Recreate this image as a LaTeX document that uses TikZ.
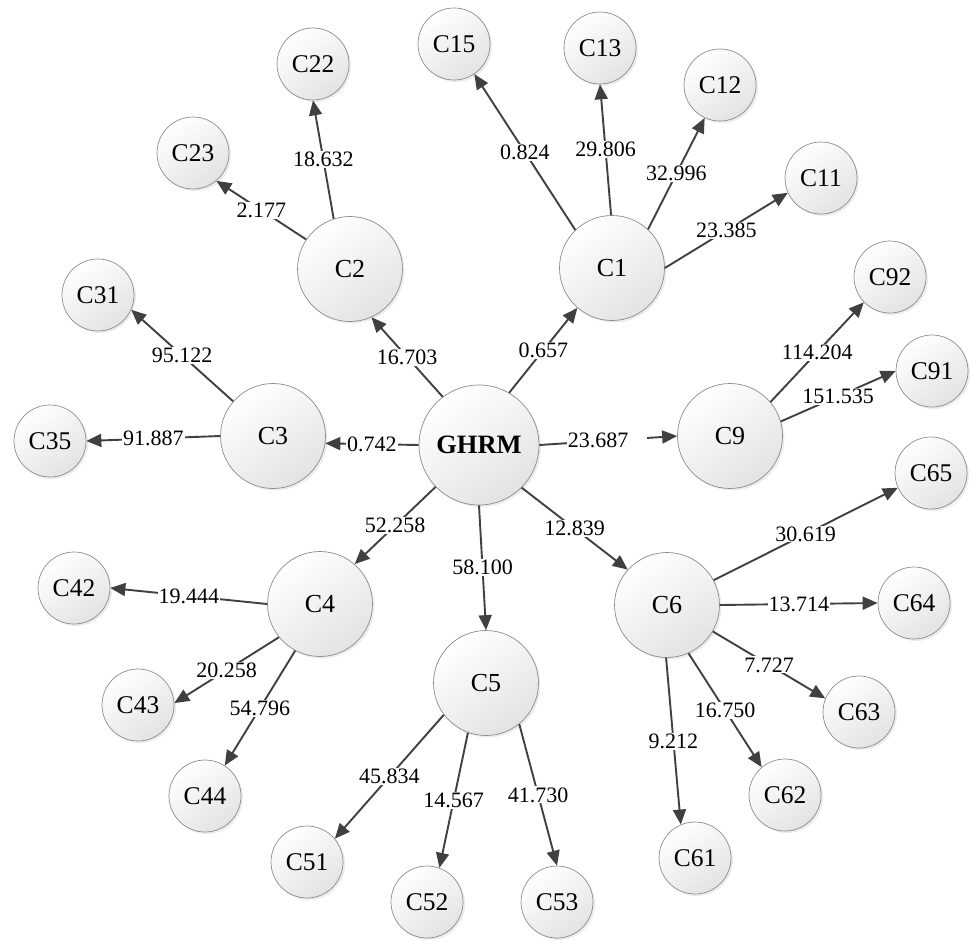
\documentclass[tikz,border=0pt]{standalone}
\usepackage{fontspec}
\setmainfont{Liberation Serif}
\usetikzlibrary{arrows.meta,shadows}
\begin{document}
\begin{tikzpicture}[x=1pt,y=-1pt,
  nd/.style={circle, draw=black!45, line width=0.7pt, inner sep=0pt,
    top color=white, bottom color=black!11, shading angle=35,
    drop shadow={shadow xshift=2pt,shadow yshift=-2pt,opacity=0.15}},
  big/.style={nd, minimum size=105pt, font=\fontsize{26}{28}\selectfont},
  small/.style={nd, minimum size=72pt, font=\fontsize{25.5}{28}\selectfont},
  hub/.style={nd, minimum size=120pt, font=\fontsize{26.5}{28}\selectfont\bfseries},
  con/.style={draw=black!75, line width=1.9pt, -{Triangle[length=15pt,width=13pt]}},
  lbl/.style={fill=white, inner sep=1pt, font=\fontsize{22}{24}\selectfont, pos=0.5}
]
\useasboundingbox (0,0) rectangle (973,939);

% main nodes
\node[hub] (GHRM) at (479,445) {GHRM};
\node[big] (C1) at (612,268) {C1};
\node[big] (C2) at (350,269) {C2};
\node[big] (C3) at (273,436) {C3};
\node[big] (C4) at (320,604) {C4};
\node[big] (C5) at (486,683) {C5};
\node[big] (C6) at (667,605) {C6};
\node[big] (C9) at (730,436) {C9};

% leaf nodes
\node[small] (C15) at (454,44) {C15};
\node[small] (C13) at (600,48) {C13};
\node[small] (C12) at (720,85) {C12};
\node[small] (C11) at (821,178) {C11};
\node[small] (C22) at (313,64) {C22};
\node[small] (C23) at (193,153) {C23};
\node[small] (C31) at (98,295) {C31};
\node[small] (C35) at (50,441) {C35};
\node[small] (C92) at (890,277) {C92};
\node[small] (C91) at (932,371) {C91};
\node[small] (C65) at (931,473) {C65};
\node[small] (C64) at (914,603) {C64};
\node[small] (C63) at (859,712) {C63};
\node[small] (C62) at (785,795) {C62};
\node[small] (C61) at (695,858) {C61};
\node[small] (C42) at (74,588) {C42};
\node[small] (C43) at (138,705) {C43};
\node[small] (C44) at (205,796) {C44};
\node[small] (C51) at (307,862) {C51};
\node[small] (C52) at (427,902) {C52};
\node[small] (C53) at (557,902) {C53};

% GHRM edges
\draw[con] (GHRM.127) -- node[lbl]{16.703} (C2.294);
\draw[con] (GHRM.60) -- node[lbl]{0.657} (C1.229);
\draw[con] (GHRM.180) -- node[lbl]{0.742} (C3.352);
\draw[con] (GHRM.0) -- node[lbl,pos=0.49,text width=78pt,align=left]{23.687} (C9.180);
\draw[con] (GHRM.224) -- node[lbl]{52.258} (C4.49);
\draw[con] (GHRM.270) -- node[lbl]{58.100} (C5.90);
\draw[con] (GHRM.-45) -- node[lbl]{12.839} (C6.138);

% C1 edges
\draw[con] (C1.134) -- node[lbl]{0.824} (C15.304);
\draw[con] (C1.91) -- node[lbl]{29.806} (C13.270);
\draw[con] (C1.47) -- node[lbl]{32.996} (C12.245);
\draw[con] (C1.0) -- node[lbl]{23.385} (C11.204);

% C2 edges
\draw[con] (C2.108) -- node[lbl]{18.632} (C22.270);
\draw[con] (C2.146) -- node[lbl]{2.177} (C23.310);

% C3 edges
\draw[con] (C3.139) -- node[lbl]{95.122} (C31.-24);
\draw[con] (C3.180) -- node[lbl]{91.887} (C35.0);

% C9 edges
\draw[con] (C9.40) -- node[lbl]{114.204} (C92.224);
\draw[con] (C9.16) -- node[lbl]{151.535} (C91.180);

% C6 edges
\draw[con] (C6.28) -- node[lbl]{30.619} (C65.204);
\draw[con] (C6.0) -- node[lbl]{13.714} (C64.180);
\draw[con] (C6.-30) -- node[lbl]{7.727} (C63.158);
\draw[con] (C6.-66) -- node[lbl]{16.750} (C62.130);
\draw[con] (C6.269) -- node[lbl]{9.212} (C61.113);

% C4 edges
\draw[con] (C4.180) -- node[lbl]{19.444} (C42.0);
\draw[con] (C4.219) -- node[lbl]{20.258} (C43.3);
\draw[con] (C4.242) -- node[lbl]{54.796} (C44.57);

% C5 edges
\draw[con] (C5.217) -- node[lbl]{45.834} (C51.40);
\draw[con] (C5.250) -- node[lbl]{14.567} (C52.70);
\draw[con] (C5.-51) -- node[lbl]{41.730} (C53.90);
\end{tikzpicture}
\end{document}
